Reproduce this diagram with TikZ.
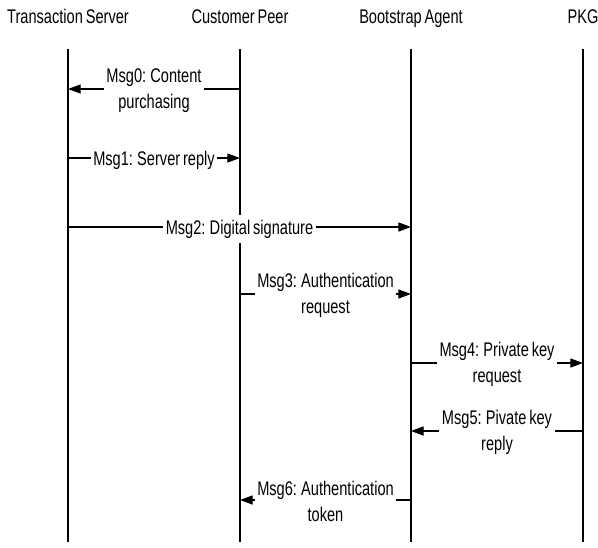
\documentclass[tikz,border=0pt]{standalone}
\usepackage{fontspec}
\setmainfont[FakeStretch=0.74,WordSpace=0.7]{Liberation Sans}
\usetikzlibrary{arrows.meta}
\begin{document}
\begin{tikzpicture}[x=0.75pt,y=-0.75pt,
  hdr/.style={anchor=base,font=\fontsize{14.8}{19.5}\selectfont,inner sep=0pt},
  life/.style={line width=0.9pt},
  msg/.style={line width=0.8pt,-{Triangle[length=9.5pt,width=6.8pt]}},
  lbl/.style={fill=white,align=center,font=\fontsize{14.8}{19.5}\selectfont,inner xsep=2pt,inner ysep=3.5pt}]
\useasboundingbox (0,0) rectangle (598,547);
% headers
\node[hdr] (ts) at (68,23.3) {Transaction Server};
\node[hdr] (cp) at (240,23.3) {Customer Peer};
\node[hdr] (ba) at (411,23.3) {Bootstrap Agent};
\node[hdr] (pkg) at (583,23.3) {PKG};
% lifelines
\coordinate (tsT) at (68,49);  \coordinate (tsB) at (68,542);
\coordinate (cpT) at (240,49); \coordinate (cpB) at (240,542);
\coordinate (baT) at (411,49); \coordinate (baB) at (411,542);
\coordinate (pkT) at (583,49); \coordinate (pkB) at (583,542);
\draw[life] (tsT) -- (tsB);
\draw[life] (cpT) -- (cpB);
\draw[life] (baT) -- (baB);
\draw[life] (pkT) -- (pkB);
% message end points
\coordinate (m0a) at (240,89);  \coordinate (m0b) at (68,89);
\coordinate (m1a) at (68,158);  \coordinate (m1b) at (240,158);
\coordinate (m2a) at (68,227);  \coordinate (m2b) at (411,227);
\coordinate (m3a) at (240,294); \coordinate (m3b) at (411,294);
\coordinate (m4a) at (411,363); \coordinate (m4b) at (583,363);
\coordinate (m5a) at (583,431); \coordinate (m5b) at (411,431);
\coordinate (m6a) at (411,500); \coordinate (m6b) at (240,500);
% messages
\draw[msg] (m0a) -- node[lbl,yshift=-1pt] (l0) {Msg0: Content\\purchasing} (m0b);
\draw[msg] (m1a) -- node[lbl,yshift=-1.5pt] (l1) {Msg1: Server reply} (m1b);
\draw[msg] (m2a) -- node[lbl,yshift=-1.5pt] (l2) {Msg2: Digital signature} (m2b);
\draw[msg] (m3a) -- node[lbl,yshift=-1pt] (l3) {Msg3: Authentication\\request} (m3b);
\draw[msg] (m4a) -- node[lbl,yshift=-1pt] (l4) {Msg4: Private key\\request} (m4b);
\draw[msg] (m5a) -- node[lbl,yshift=-1pt] (l5) {Msg5: Pivate key\\reply} (m5b);
\draw[msg] (m6a) -- node[lbl,yshift=-1pt] (l6) {Msg6: Authentication\\token} (m6b);
\end{tikzpicture}
\end{document}
